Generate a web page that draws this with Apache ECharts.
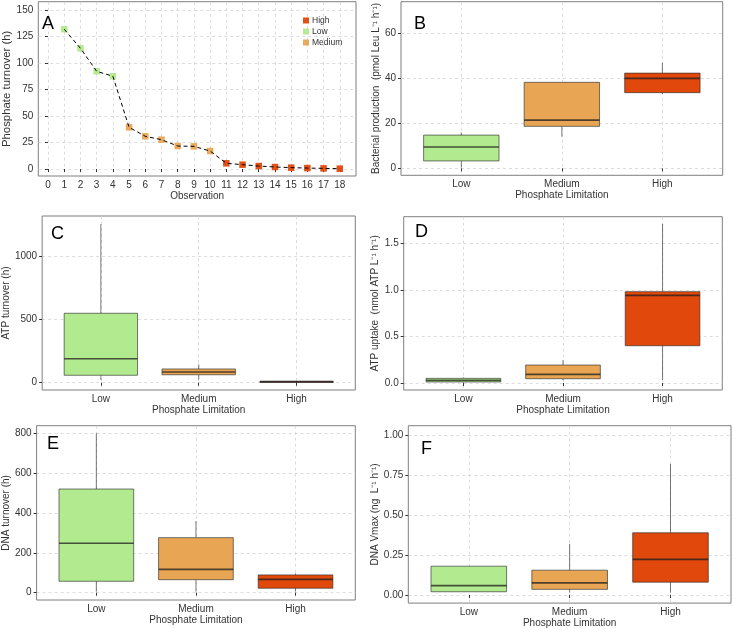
<!DOCTYPE html>
<html>
<head>
<meta charset="utf-8">
<script src="https://cdn.jsdelivr.net/npm/echarts@6/dist/echarts.min.js"></script>
<style>
  html, body { margin: 0; padding: 0; background: #fff; }
  #chart { width: 733px; height: 629px; }
</style>
</head>
<body>
<div id="chart"></div>
<script>
// panel A: phosphate turnover per observation
var observation = [1, 2, 3, 4, 5, 6, 7, 8, 9, 10, 11, 12, 13, 14, 15, 16, 17, 18];
var phosTurnover = [132, 114, 92.3, 87.6, 39.4, 30.9, 27.7, 21.7, 21.4, 17.0, 5.4, 4.1, 2.8, 1.9, 1.3, 0.9, 0.6, 0.3];
var obsLimitation = ['Low', 'Low', 'Low', 'Low', 'Medium', 'Medium', 'Medium', 'Medium', 'Medium', 'Medium',
    'High', 'High', 'High', 'High', 'High', 'High', 'High', 'High'];
var obsTicks = [0, 1, 2, 3, 4, 5, 6, 7, 8, 9, 10, 11, 12, 13, 14, 15, 16, 17, 18];
var turnoverTicks = [0, 25, 50, 75, 100, 125, 150];

// boxplots: [min, Q1, median, Q3, max] for Low, Medium, High
var limitation = ['Low', 'Medium', 'High'];
var bacProduction = [[0.3, 3.3, 9.5, 14.8, 15.9], [14.1, 18.7, 21.5, 38.3, 38.3], [33.1, 33.7, 40.1, 42.4, 47.0]];
var atpTurnover = [[21, 59, 190, 551, 1259], [25, 63, 85, 109, 146], [3, 6, 8, 10, 13]];
var atpUptake = [[0.005, 0.011, 0.029, 0.05, 0.06], [0.029, 0.046, 0.093, 0.193, 0.247], [0.032, 0.40, 0.94, 0.98, 1.706]];
var dnaTurnover = [[5, 57, 248, 520, 800], [5, 65, 117, 276, 360], [5, 22, 67, 89, 97]];
var dnaVmax = [[0.02, 0.021, 0.059, 0.181, 0.181], [0.015, 0.036, 0.077, 0.156, 0.321], [0.015, 0.081, 0.223, 0.39, 0.821]];

var bacTicks = [0, 20, 40, 60];
var atpTurnTicks = [0, 500, 1000];
var atpUptakeTicks = [0, 0.5, 1.0, 1.5];
var dnaTurnTicks = [0, 200, 400, 600, 800];
var dnaVmaxTicks = [0, 0.25, 0.5, 0.75, 1.0];
var catTicks = [1, 2, 3];

var colors = { High: '#e0480c', Low: '#b2ea8f', Medium: '#e8a553' };
var FONT = 'Liberation Sans';
var TXT = '#333';
var BOX_LINE = 'rgba(40,40,40,0.62)';

var chart = echarts.init(document.getElementById('chart'));

// grids in pixels
var grids = [
    { left: 38.3, top: 1.7, width: 317.7, height: 174.3 },   // A
    { left: 401, top: 1.7, width: 321.7, height: 173.6 },    // B
    { left: 39, top: 216, width: 316.3, height: 174 },       // C
    { left: 403.7, top: 216.7, width: 318.6, height: 173.3 },// D
    { left: 33.3, top: 425.7, width: 322, height: 174.3 },   // E
    { left: 408.3, top: 425.7, width: 322.7, height: 177.6 } // F
];

function gridOpt(g) {
    return {
        left: g.left, top: g.top, width: g.width, height: g.height,
        show: true, borderColor: '#7f7f7f', borderWidth: 1, backgroundColor: 'transparent'
    };
}

function xAx(idx, min, max, ticks, fmt, name) {
    return {
        type: 'value', gridIndex: idx, min: min, max: max,
        name: name, nameLocation: 'middle', nameGap: 12,
        nameTextStyle: { fontFamily: FONT, fontSize: 10, color: TXT },
        axisLine: { show: false },
        axisTick: { show: true, length: 3, customValues: ticks, lineStyle: { color: '#333' } },
        axisLabel: { customValues: ticks, formatter: fmt, margin: 4, fontFamily: FONT, fontSize: 10, color: TXT },
        splitLine: { show: true, lineStyle: { color: '#d4d4d4', type: [3, 3], width: 0.8 } }
    };
}

function yAx(idx, min, max, ticks, fmt, name, gap, nameSize) {
    return {
        type: 'value', gridIndex: idx, min: min, max: max,
        name: name, nameLocation: 'middle', nameGap: gap, nameRotate: 90,
        nameTextStyle: { fontFamily: FONT, fontSize: nameSize || 10, color: TXT },
        axisLine: { show: false },
        axisTick: { show: true, length: 3, customValues: ticks, lineStyle: { color: '#333' } },
        axisLabel: { customValues: ticks, formatter: fmt, margin: 5, fontFamily: FONT, fontSize: 10, color: TXT },
        splitLine: { show: true, lineStyle: { color: '#d4d4d4', type: [3, 3], width: 0.8 } }
    };
}

function catName(v) { return limitation[Math.round(v) - 1] || ''; }
function plain(v) { return String(v); }
function fix1(v) { return v.toFixed(1); }
function fix2(v) { return v.toFixed(2); }

// ggplot-like box: no whisker caps, thicker median
function renderBox(params, api) {
    var x = api.value(0);
    var half = api.size([0.75, 0])[0] / 2;
    var pMin = api.coord([x, api.value(1)]);
    var pQ1 = api.coord([x, api.value(2)]);
    var pMed = api.coord([x, api.value(3)]);
    var pQ3 = api.coord([x, api.value(4)]);
    var pMax = api.coord([x, api.value(5)]);
    var cx = pMed[0];
    var wStyle = { stroke: BOX_LINE, lineWidth: 1 };
    return {
        type: 'group',
        children: [
            { type: 'line', shape: { x1: cx, y1: pQ3[1], x2: cx, y2: pMax[1] }, style: wStyle },
            { type: 'line', shape: { x1: cx, y1: pQ1[1], x2: cx, y2: pMin[1] }, style: wStyle },
            {
                type: 'rect',
                shape: { x: cx - half, y: pQ3[1], width: half * 2, height: Math.max(pQ1[1] - pQ3[1], 1) },
                style: { fill: api.visual('color'), stroke: BOX_LINE, lineWidth: 1 }
            },
            { type: 'line', shape: { x1: cx - half, y1: pMed[1], x2: cx + half, y2: pMed[1] },
              style: { stroke: 'rgba(30,30,30,0.75)', lineWidth: 1.7 } }
        ]
    };
}

function boxSeries(idx, stats) {
    return {
        type: 'custom', xAxisIndex: idx, yAxisIndex: idx, silent: true,
        renderItem: renderBox,
        encode: { x: 0, y: [1, 2, 3, 4, 5] },
        data: stats.map(function (s, i) {
            return { value: [i + 1].concat(s), itemStyle: { color: colors[limitation[i]] } };
        })
    };
}

var series = [];
// dashed connecting line in A
series.push({
    type: 'line', xAxisIndex: 0, yAxisIndex: 0, z: 5, symbol: 'none', silent: true,
    lineStyle: { color: '#000', width: 1, type: [4, 3] },
    data: observation.map(function (o, i) { return [o, phosTurnover[i]]; })
});
['High', 'Low', 'Medium'].forEach(function (lvl) {
    var pts = [];
    observation.forEach(function (o, i) { if (obsLimitation[i] === lvl) pts.push([o, phosTurnover[i]]); });
    series.push({
        name: lvl, type: 'scatter', xAxisIndex: 0, yAxisIndex: 0, z: 3,
        symbol: 'rect', symbolSize: 6.5, silent: true,
        itemStyle: { color: colors[lvl], opacity: 0.95 },
        data: pts
    });
});
series.push(boxSeries(1, bacProduction));
series.push(boxSeries(2, atpTurnover));
series.push(boxSeries(3, atpUptake));
series.push(boxSeries(4, dnaTurnover));
series.push(boxSeries(5, dnaVmax));

var PL = 'Phosphate Limitation';

var option = {
    animation: false,
    backgroundColor: '#fff',
    textStyle: { fontFamily: FONT },
    grid: grids.map(gridOpt),
    xAxis: [
        xAx(0, -0.6, 19, obsTicks, plain, 'Observation'),
        xAx(1, 0.4, 3.6, catTicks, catName, PL),
        xAx(2, 0.4, 3.6, catTicks, catName, PL),
        xAx(3, 0.4, 3.6, catTicks, catName, PL),
        xAx(4, 0.4, 3.6, catTicks, catName, PL),
        xAx(5, 0.4, 3.6, catTicks, catName, PL)
    ],
    yAxis: [
        yAx(0, -6.6, 158, turnoverTicks, plain, 'Phosphate turnover (h)', 25, 11.4),
        yAx(1, -3.1, 74.2, bacTicks, plain, 'Bacterial production  (pmol Leu L\u207B\u00B9 h\u207B\u00B9)', 20),
        yAx(2, -58, 1323, atpTurnTicks, plain, 'ATP turnover (h)', 26),
        yAx(3, -0.075, 1.784, atpUptakeTicks, fix1, 'ATP uptake  (nmol ATP L\u207B\u00B9 h\u207B\u00B9)', 23),
        yAx(4, -37, 838, dnaTurnTicks, plain, 'DNA turnover (h)', 22),
        yAx(5, -0.05, 1.06, dnaVmaxTicks, fix2, 'DNA Vmax (ng  L\u207B\u00B9 h\u207B\u00B9)', 26)
    ],
    legend: {
        data: ['High', 'Low', 'Medium'], orient: 'vertical', left: 303, top: 16,
        icon: 'rect', itemWidth: 6, itemHeight: 6, itemGap: 2, padding: 0,
        selectedMode: false,
        textStyle: { fontFamily: FONT, fontSize: 8.5, color: TXT, padding: [0, 0, 0, -2] }
    },
    title: [
        { text: 'A', left: 42, top: 15 },
        { text: 'B', left: 414, top: 15 },
        { text: 'C', left: 51, top: 225 },
        { text: 'D', left: 415, top: 223 },
        { text: 'E', left: 47, top: 435 },
        { text: 'F', left: 421, top: 440 }
    ].map(function (t) {
        t.padding = 0;
        t.textStyle = { fontFamily: FONT, fontSize: 18, fontWeight: 'normal', color: '#000' };
        return t;
    }),
    series: series
};

chart.setOption(option);
</script>
</body>
</html>
